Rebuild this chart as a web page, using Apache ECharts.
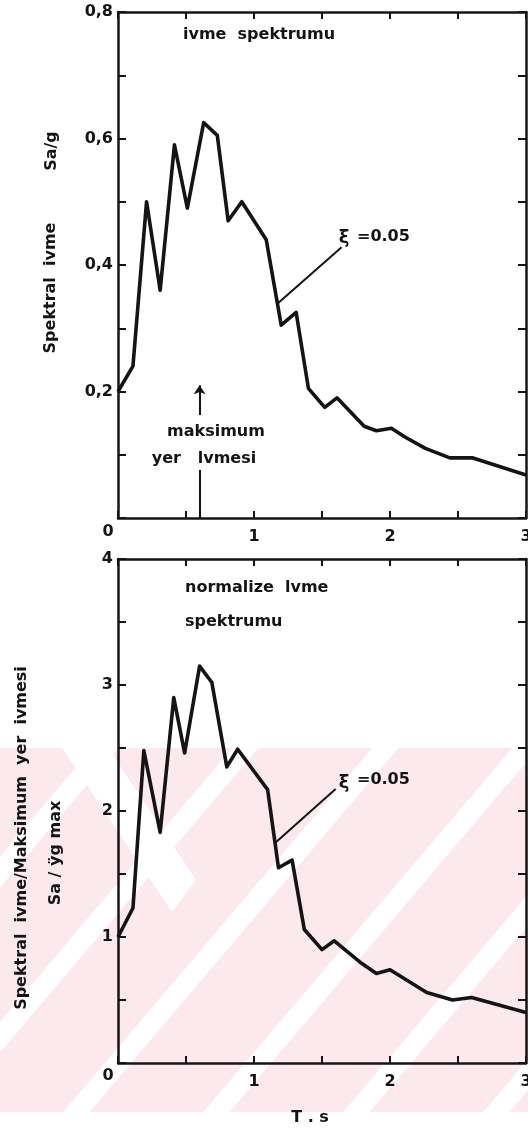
<!DOCTYPE html>
<html>
<head>
<meta charset="utf-8">
<script src="https://cdn.jsdelivr.net/npm/echarts@6/dist/echarts.min.js"></script>
<style>
  html, body { margin: 0; padding: 0; background: #fff; }
  #chart { width: 528px; height: 1133px; }
</style>
</head>
<body>
<div id="chart"></div>
<script>
// üst panel: ivme spektrumu (Sa/g)
const periodTop = [0, 0.11, 0.21, 0.31, 0.415, 0.51, 0.63, 0.73, 0.81, 0.91, 1.09, 1.2, 1.31, 1.4, 1.52, 1.61, 1.81, 1.9, 2.01, 2.11, 2.26, 2.44, 2.61, 3.0]
const saTop = [0.2, 0.24, 0.5, 0.36, 0.59, 0.49, 0.625, 0.605, 0.47, 0.5, 0.44, 0.305, 0.325, 0.205, 0.175, 0.19, 0.145, 0.138, 0.142, 0.128, 0.11, 0.095, 0.095, 0.068]

// alt panel: normalize ivme spektrumu (Sa / ÿg max)
const periodBot = [0, 0.11, 0.19, 0.31, 0.41, 0.49, 0.6, 0.69, 0.8, 0.88, 1.1, 1.18, 1.28, 1.37, 1.5, 1.59, 1.78, 1.9, 2.0, 2.27, 2.46, 2.6, 3.0]
const saBot = [1.0, 1.23, 2.48, 1.83, 2.9, 2.46, 3.15, 3.02, 2.35, 2.49, 2.17, 1.55, 1.61, 1.06, 0.9, 0.97, 0.8, 0.71, 0.74, 0.56, 0.5, 0.52, 0.4]

// tick labels
const xTicks = [1, 2, 3]
const xLabels = ['1', '2', '3']
const topYTicks = [0.2, 0.4, 0.6, 0.8]
const topYLabels = ['0,2', '0,4', '0,6', '0,8']
const botYTicks = [1, 2, 3, 4]
const botYLabels = ['1', '2', '3', '4']

const ink = '#141414'
const FONT = 'DejaVu Sans'

const pick = (ticks, labels) => v => {
  const i = ticks.findIndex(t => Math.abs(t - v) < 1e-6)
  return i >= 0 ? labels[i] : ''
}

const lineOf = (xs, ys) => xs.map((x, i) => [x, ys[i]])

const xAx = (gridIndex, position, withLabels) => ({
  type: 'value', gridIndex, position, min: 0, max: 3, interval: 0.5,
  axisLine: { show: true, onZero: false, lineStyle: { color: ink, width: 2.5 } },
  axisTick: { show: true, inside: true, length: 7, lineStyle: { color: ink, width: 2 } },
  splitLine: { show: false },
  axisLabel: withLabels
    ? { show: true, color: ink, fontFamily: FONT, fontWeight: 'bold', fontSize: 16, margin: 11, formatter: pick(xTicks, xLabels) }
    : { show: false }
})

const yAx = (gridIndex, position, max, interval, fmt) => ({
  type: 'value', gridIndex, position, min: 0, max, interval,
  axisLine: { show: true, onZero: false, lineStyle: { color: ink, width: 2.5 } },
  axisTick: { show: true, inside: true, length: 8, lineStyle: { color: ink, width: 2 } },
  splitLine: { show: false },
  axisLabel: fmt
    ? { show: true, color: ink, fontFamily: FONT, fontWeight: 'bold', fontSize: 16, margin: 5, formatter: fmt }
    : { show: false }
})

// pembe filigran deseni
const P = 140, H = P / 0.85, W = 26, A = 27
const tile = document.createElement('canvas')
tile.width = P; tile.height = Math.round(H)
const g = tile.getContext('2d')
g.fillStyle = '#fce9ed'
g.fillRect(0, 0, tile.width, tile.height)
g.fillStyle = '#ffffff'
for (let m = -1; m <= 2; m++) {
  const a = A + m * P
  g.beginPath()
  g.moveTo(a, 0); g.lineTo(a + W, 0); g.lineTo(a + W - P, tile.height); g.lineTo(a - P, tile.height)
  g.closePath(); g.fill()
}

const txt = (text, x, y, opts = {}) => ({
  type: 'text', x, y, rotation: opts.rot || 0, z: 20, silent: true,
  style: {
    text, fill: ink, fontFamily: FONT, fontWeight: 'bold', fontSize: opts.size || 16,
    align: opts.align || 'left', verticalAlign: 'middle',
    textAlign: opts.align || 'left', textVerticalAlign: 'middle'
  }
})

const annLine = (p1, p2, arrow) => [
  { coord: p1, symbol: 'none' },
  { coord: p2, symbol: arrow ? 'arrow' : 'none', symbolSize: 9 }
]

const chart = echarts.init(document.getElementById('chart'))
chart.setOption({
  animation: false,
  backgroundColor: '#fff',
  grid: [
    { left: 118, top: 12, width: 408, height: 506, outerBoundsMode: 'none' },
    { left: 118, top: 559, width: 408, height: 504, outerBoundsMode: 'none' }
  ],
  xAxis: [
    xAx(0, 'bottom', true), xAx(0, 'top', false),
    xAx(1, 'bottom', true), xAx(1, 'top', false)
  ],
  yAxis: [
    yAx(0, 'left', 0.8, 0.1, pick(topYTicks, topYLabels)), yAx(0, 'right', 0.8, 0.1, null),
    yAx(1, 'left', 4, 0.5, pick(botYTicks, botYLabels)), yAx(1, 'right', 4, 0.5, null)
  ],
  series: [
    {
      type: 'line', xAxisIndex: 0, yAxisIndex: 0, data: lineOf(periodTop, saTop),
      symbol: 'none', lineStyle: { color: ink, width: 3.6, join: 'round' }, z: 5,
      markLine: {
        silent: true, symbol: 'none', label: { show: false },
        lineStyle: { color: ink, width: 2, type: 'solid' },
        data: [
          annLine([1.178, 0.34], [1.644, 0.428]),
          annLine([0.6, 0], [0.6, 0.076]),
          annLine([0.6, 0.163], [0.6, 0.21], true)
        ]
      }
    },
    {
      type: 'line', xAxisIndex: 2, yAxisIndex: 2, data: lineOf(periodBot, saBot),
      symbol: 'none', lineStyle: { color: ink, width: 3.6, join: 'round' }, z: 5,
      markLine: {
        silent: true, symbol: 'none', label: { show: false },
        lineStyle: { color: ink, width: 2, type: 'solid' },
        data: [annLine([1.155, 1.746], [1.6, 2.175])]
      }
    }
  ],
  graphic: [
    { type: 'rect', silent: true, z: -10, shape: { x: 0, y: 748, width: 528, height: 364 },
      style: { fill: { image: tile, repeat: 'repeat' } } },
    { type: 'polygon', silent: true, z: -9, shape: { points: [[62, 748], [108, 748], [196, 880], [172, 912]] },
      style: { fill: '#ffffff' } },

    txt('ivme  spektrumu', 183, 35),
    txt('maksimum', 216, 432, { align: 'center' }),
    txt('yer   lvmesi', 204, 459, { align: 'center' }),
    txt('ξ', 344, 238, { size: 18, align: 'center' }),
    txt('=0.05', 357, 237),
    txt('0', 108, 532, { align: 'center' }),
    txt('Spektral  ivme', 51, 288, { rot: Math.PI / 2, align: 'center' }),
    txt('Sa/g', 52, 151, { rot: Math.PI / 2, align: 'center' }),

    txt('normalize  lvme', 185, 588),
    txt('spektrumu', 185, 622),
    txt('ξ', 344, 783, { size: 18, align: 'center' }),
    txt('=0.05', 357, 780),
    txt('0', 108, 1076, { align: 'center' }),
    txt('T . s', 310, 1118, { align: 'center' }),
    txt('Spektral  ivme/Maksimum  yer  ivmesi', 22, 838, { rot: Math.PI / 2, align: 'center' }),
    txt('Sa / ÿg max', 56, 853, { rot: Math.PI / 2, align: 'center' })
  ]
})
</script>
</body>
</html>
